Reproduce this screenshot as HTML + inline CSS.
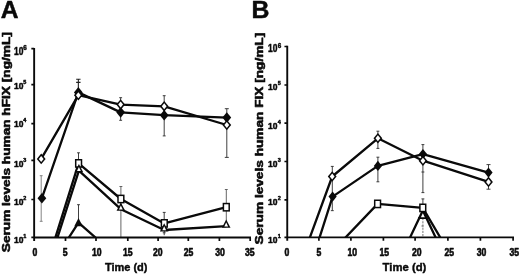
<!DOCTYPE html>
<html><head><meta charset="utf-8"><title>Figure</title>
<style>html,body{margin:0;padding:0;background:#fff}body{width:520px;height:274px;overflow:hidden;font-family:"Liberation Sans",sans-serif}svg{display:block;filter:grayscale(1)}text{stroke:#0a0a0a;stroke-width:.4px;stroke-linejoin:round}.t{stroke-width:.5px}.x{stroke-width:.6px}.y{stroke-width:.55px}.p{stroke-width:.5px}</style></head>
<body>
<svg width="520" height="274" viewBox="0 0 520 274" font-family="Liberation Sans, sans-serif" font-weight="bold" fill="#0a0a0a">
<defs><clipPath id="ca"><rect x="0" y="0" width="520" height="237.6"/></clipPath></defs>
<rect width="520" height="274" fill="#fff"/>
<text x="0.8" y="18.1" font-size="24.6" class="p">A</text>
<text x="251.4" y="18.4" font-size="24.8" class="p">B</text>
<text transform="translate(9.5 252.2) rotate(-90) scale(1.302 1)" font-size="10.5" class="y">Serum levels human hFIX [ng/mL]</text>
<text transform="translate(262.8 244.4) rotate(-90) scale(1.302 1)" font-size="10.5" class="y">Serum levels human FIX [ng/mL]</text>
<text x="104.9" y="270.5" font-size="11">Time (d)</text>
<text x="382.6" y="270.5" font-size="11.3">Time (d)</text>
<g clip-path="url(#ca)">
<path d="M78.35 79.2V90M76.15 79.2h4.4M76.15 82.4h4.4" fill="none" stroke="#222" stroke-width="1.1"/>
<path d="M120.65 97.7V120.3M119.2 97.7h2.9M119.2 120.3h2.9" fill="none" stroke="#2a2a2a" stroke-width="0.9"/>
<path d="M164.2 95.7V135.9M162.75 95.7h2.9M162.75 135.9h2.9" fill="none" stroke="#2a2a2a" stroke-width="0.9"/>
<path d="M226.8 108.7V157.4M224.8 108.7h4M224.8 157.4h4" fill="none" stroke="#2a2a2a" stroke-width="0.9"/>
<path d="M41.2 175.7V221.3M39.75 175.7h2.9M39.75 221.3h2.9" fill="none" stroke="#777" stroke-width="0.9"/>
<path d="M78.5 152.8V162M77.05 152.8h2.9" fill="none" stroke="#2a2a2a" stroke-width="0.9"/>
<path d="M120.9 186.5V240M119.45 186.5h2.9" fill="none" stroke="#555" stroke-width="0.9"/>
<path d="M164.2 212.4V235.2M162.75 212.4h2.9M162.75 232.8h2.9" fill="none" stroke="#2a2a2a" stroke-width="0.9"/>
<path d="M226.3 189.5V222M224.85 189.5h2.9" fill="none" stroke="#555" stroke-width="0.9"/>
<path d="M78.5 204.7V220M77.05 204.7h2.9" fill="none" stroke="#2a2a2a" stroke-width="0.9"/>
<path d="M41.9 198.2L78.35 92.4L120.65 112.35L164.2 115.2L226.8 117.6" fill="none" stroke="#0a0a0a" stroke-width="2.3" stroke-linejoin="round" stroke-linecap="butt"/>
<path d="M41.9 192.9L46.3 198.2L41.9 203.5L37.5 198.2Z" fill="#0a0a0a"/>
<path d="M78.35 87.1L82.75 92.4L78.35 97.7L73.95 92.4Z" fill="#0a0a0a"/>
<path d="M120.65 107.05L125.05 112.35L120.65 117.65L116.25 112.35Z" fill="#0a0a0a"/>
<path d="M164.2 109.9L168.6 115.2L164.2 120.5L159.8 115.2Z" fill="#0a0a0a"/>
<path d="M226.8 112.3L231.2 117.6L226.8 122.9L222.4 117.6Z" fill="#0a0a0a"/>
<path d="M41.2 158.9L78.35 95.2L120.65 104.6L164.2 106.35L226.8 125" fill="none" stroke="#0a0a0a" stroke-width="2.3" stroke-linejoin="round" stroke-linecap="butt"/>
<path d="M41.2 153.6L45.6 158.9L41.2 164.2L36.8 158.9Z" fill="#0a0a0a"/>
<path d="M41.2 155.9L43.6 158.9L41.2 161.9L38.8 158.9Z" fill="#fff"/>
<path d="M78.35 89.9L82.75 95.2L78.35 100.5L73.95 95.2Z" fill="#0a0a0a"/>
<path d="M78.35 92.2L80.75 95.2L78.35 98.2L75.95 95.2Z" fill="#fff"/>
<path d="M120.65 99.3L125.05 104.6L120.65 109.9L116.25 104.6Z" fill="#0a0a0a"/>
<path d="M120.65 101.6L123.05 104.6L120.65 107.6L118.25 104.6Z" fill="#fff"/>
<path d="M164.2 101.05L168.6 106.35L164.2 111.65L159.8 106.35Z" fill="#0a0a0a"/>
<path d="M164.2 103.35L166.6 106.35L164.2 109.35L161.8 106.35Z" fill="#fff"/>
<path d="M226.8 119.7L231.2 125L226.8 130.3L222.4 125Z" fill="#0a0a0a"/>
<path d="M226.8 122L229.2 125L226.8 128L224.4 125Z" fill="#fff"/>
<path d="M54.15 241.5L78.6 163.4L120.9 199L164.3 223.4L226.3 207.2" fill="none" stroke="#0a0a0a" stroke-width="2.3" stroke-linejoin="round" stroke-linecap="butt"/>
<rect x="74.95" y="159" width="7.3" height="8.8" fill="#0a0a0a"/>
<rect x="76.45" y="160.5" width="4.3" height="5.8" fill="#fff"/>
<rect x="117.25" y="194.6" width="7.3" height="8.8" fill="#0a0a0a"/>
<rect x="118.75" y="196.1" width="4.3" height="5.8" fill="#fff"/>
<rect x="160.65" y="219" width="7.3" height="8.8" fill="#0a0a0a"/>
<rect x="162.15" y="220.5" width="4.3" height="5.8" fill="#fff"/>
<rect x="222.65" y="202.8" width="7.3" height="8.8" fill="#0a0a0a"/>
<rect x="224.15" y="204.3" width="4.3" height="5.8" fill="#fff"/>
<path d="M56.22 241.5L78.9 170.6L120.85 209.2L164.2 230L226.2 226.2" fill="none" stroke="#0a0a0a" stroke-width="2.3" stroke-linejoin="round" stroke-linecap="butt"/>
<path d="M78.9 163.9L83.2 172.2L74.6 172.2Z" fill="#0a0a0a"/>
<path d="M78.9 166.9L80.8 170.9L77 170.9Z" fill="#fff"/>
<path d="M120.85 202.5L125.15 210.8L116.55 210.8Z" fill="#0a0a0a"/>
<path d="M120.85 205.5L122.75 209.5L118.95 209.5Z" fill="#fff"/>
<path d="M164.2 223.3L168.5 231.6L159.9 231.6Z" fill="#0a0a0a"/>
<path d="M164.2 226.3L166.1 230.3L162.3 230.3Z" fill="#fff"/>
<path d="M226.2 219.5L230.5 227.8L221.9 227.8Z" fill="#0a0a0a"/>
<path d="M226.2 222.5L228.1 226.5L224.3 226.5Z" fill="#fff"/>
<path d="M66.32 241.5L78.5 222.6L99.94 241.5" fill="none" stroke="#0a0a0a" stroke-width="2.3" stroke-linejoin="round" stroke-linecap="butt"/>
<path d="M78.5 218L82.7 226.2L74.3 226.2Z" fill="#0a0a0a"/>
</g>
<path d="M34.15 47.9V240.9M33.35 237.5H251" fill="none" stroke="#0a0a0a" stroke-width="1.9"/>
<path d="M31.35 237.4H34.15M31.35 199.5H34.15M31.35 160.4H34.15M31.35 123.7H34.15M31.35 84.6H34.15M31.35 48.7H34.15M65.5 237.5V240.9M96 237.5V240.9M127.8 237.5V240.9M158.1 237.5V240.9M188.3 237.5V240.9M219.4 237.5V240.9M250.2 237.5V240.9" fill="none" stroke="#0a0a0a" stroke-width="1.7"/>
<text transform="translate(23.4 243.1) scale(0.91 1)" text-anchor="end" font-size="9.3" class="t">10</text>
<text transform="translate(23.2 238.2) scale(0.9 1)" font-size="6.1" class="t">1</text>
<text transform="translate(23.4 204.5) scale(0.91 1)" text-anchor="end" font-size="9.3" class="t">10</text>
<text transform="translate(23.2 199.6) scale(0.9 1)" font-size="6.1" class="t">2</text>
<text transform="translate(23.4 166.5) scale(0.91 1)" text-anchor="end" font-size="9.3" class="t">10</text>
<text transform="translate(23.2 161.6) scale(0.9 1)" font-size="6.1" class="t">3</text>
<text transform="translate(23.4 126.8) scale(0.91 1)" text-anchor="end" font-size="9.3" class="t">10</text>
<text transform="translate(23.2 121.9) scale(0.9 1)" font-size="6.1" class="t">4</text>
<text transform="translate(23.4 88.8) scale(0.91 1)" text-anchor="end" font-size="9.3" class="t">10</text>
<text transform="translate(23.2 83.9) scale(0.9 1)" font-size="6.1" class="t">5</text>
<text transform="translate(23.4 54.5) scale(0.82 1)" text-anchor="end" font-size="10.3" class="t">10</text>
<text transform="translate(23.2 49.9) scale(0.9 1)" font-size="7.0" class="t">6</text>
<text transform="translate(35 255.7) scale(0.84 1)" text-anchor="middle" font-size="10.3" class="x">0</text>
<text transform="translate(65.1 255.7) scale(0.84 1)" text-anchor="middle" font-size="10.3" class="x">5</text>
<text transform="translate(96.8 255.7) scale(0.84 1)" text-anchor="middle" font-size="10.3" class="x">10</text>
<text transform="translate(127.7 255.7) scale(0.84 1)" text-anchor="middle" font-size="10.3" class="x">15</text>
<text transform="translate(157.7 255.7) scale(0.84 1)" text-anchor="middle" font-size="10.3" class="x">20</text>
<text transform="translate(188.6 255.7) scale(0.84 1)" text-anchor="middle" font-size="10.3" class="x">25</text>
<text transform="translate(220.1 255.7) scale(0.84 1)" text-anchor="middle" font-size="10.3" class="x">30</text>
<text transform="translate(249.8 255.7) scale(0.84 1)" text-anchor="middle" font-size="10.3" class="x">35</text>
<g clip-path="url(#ca)">
<path d="M332.3 166.4V210.65M330.85 166.4h2.9M330.85 210.65h2.9" fill="none" stroke="#2a2a2a" stroke-width="0.9"/>
<path d="M377.9 131.2V148.4M376.45 131.2h2.9M376.45 148.4h2.9" fill="none" stroke="#2a2a2a" stroke-width="0.9"/>
<path d="M377.9 157.2V181.8M376.45 157.2h2.9M376.45 181.8h2.9" fill="none" stroke="#2a2a2a" stroke-width="0.9"/>
<path d="M422.9 144.6V192.6M421.45 144.6h2.9M421.45 172h2.9M421.45 192.6h2.9" fill="none" stroke="#2a2a2a" stroke-width="0.9"/>
<path d="M422.9 198.9V206M421.45 198.9h2.9" fill="none" stroke="#2a2a2a" stroke-width="0.9"/>
<path d="M422.9 218V240M421.4 226h3" fill="none" stroke="#666" stroke-width="0.9" stroke-dasharray="2.2 1"/>
<path d="M488.5 164.6V189.2M486.5 164.6h4M486.5 189.2h4" fill="none" stroke="#2a2a2a" stroke-width="0.9"/>
<path d="M318.33 241.4L332.6 196.6L377.9 165.9L422.95 154.1L488.5 172.6" fill="none" stroke="#0a0a0a" stroke-width="2.3" stroke-linejoin="round" stroke-linecap="butt"/>
<path d="M332.6 191.4L336.7 196.6L332.6 201.8L328.5 196.6Z" fill="#0a0a0a"/>
<path d="M377.9 160.7L382 165.9L377.9 171.1L373.8 165.9Z" fill="#0a0a0a"/>
<path d="M422.95 148.9L427.05 154.1L422.95 159.3L418.85 154.1Z" fill="#0a0a0a"/>
<path d="M488.5 167.4L492.6 172.6L488.5 177.8L484.4 172.6Z" fill="#0a0a0a"/>
<path d="M308.44 241.4L332.2 176.5L377.9 138.3L422.95 160.7L488.5 181.9" fill="none" stroke="#0a0a0a" stroke-width="2.3" stroke-linejoin="round" stroke-linecap="butt"/>
<path d="M332.2 171.2L336.6 176.5L332.2 181.8L327.8 176.5Z" fill="#0a0a0a"/>
<path d="M332.2 173.5L334.6 176.5L332.2 179.5L329.8 176.5Z" fill="#fff"/>
<path d="M377.9 133L382.3 138.3L377.9 143.6L373.5 138.3Z" fill="#0a0a0a"/>
<path d="M377.9 135.3L380.3 138.3L377.9 141.3L375.5 138.3Z" fill="#fff"/>
<path d="M422.95 155.4L427.35 160.7L422.95 166L418.55 160.7Z" fill="#0a0a0a"/>
<path d="M422.95 157.7L425.35 160.7L422.95 163.7L420.55 160.7Z" fill="#fff"/>
<path d="M488.5 176.6L492.9 181.9L488.5 187.2L484.1 181.9Z" fill="#0a0a0a"/>
<path d="M488.5 178.9L490.9 181.9L488.5 184.9L486.1 181.9Z" fill="#fff"/>
<path d="M408.21 241.4L422.85 210.4L437.49 241.4" fill="none" stroke="#0a0a0a" stroke-width="2.3" stroke-linejoin="round" stroke-linecap="butt"/>
<path d="M418 218.1H427.7" stroke="#0a0a0a" stroke-width="1.6" fill="none"/>
<path d="M341.78 241.4L377.6 203.9L422.8 207.9L442.56 241.4" fill="none" stroke="#0a0a0a" stroke-width="2.3" stroke-linejoin="round" stroke-linecap="butt"/>
<rect x="373.95" y="199.5" width="7.3" height="8.8" fill="#0a0a0a"/>
<rect x="375.45" y="201" width="4.3" height="5.8" fill="#fff"/>
<rect x="419.15" y="203.5" width="7.3" height="8.8" fill="#0a0a0a"/>
<rect x="420.65" y="205" width="4.3" height="5.8" fill="#fff"/>
</g>
<path d="M287.25 45.7V240.8M286.45 237.4H514" fill="none" stroke="#0a0a0a" stroke-width="1.9"/>
<path d="M284.45 237.4H287.25M284.45 199.9H287.25M284.45 161.5H287.25M284.45 123.2H287.25M284.45 85H287.25M284.45 46.5H287.25M318.9 237.4V240.8M350.9 237.4V240.8M383.4 237.4V240.8M415.1 237.4V240.8M447.9 237.4V240.8M480.4 237.4V240.8M513.1 237.4V240.8" fill="none" stroke="#0a0a0a" stroke-width="1.7"/>
<text transform="translate(277.5 243.1) scale(0.91 1)" text-anchor="end" font-size="9.3" class="t">10</text>
<text transform="translate(277.8 238.2) scale(0.9 1)" font-size="6.1" class="t">1</text>
<text transform="translate(277.5 204.9) scale(0.91 1)" text-anchor="end" font-size="9.3" class="t">10</text>
<text transform="translate(277.8 200) scale(0.9 1)" font-size="6.1" class="t">2</text>
<text transform="translate(277.5 166.9) scale(0.91 1)" text-anchor="end" font-size="9.3" class="t">10</text>
<text transform="translate(277.8 162) scale(0.9 1)" font-size="6.1" class="t">3</text>
<text transform="translate(277.5 128.5) scale(0.91 1)" text-anchor="end" font-size="9.3" class="t">10</text>
<text transform="translate(277.8 123.6) scale(0.9 1)" font-size="6.1" class="t">4</text>
<text transform="translate(277.5 90) scale(0.91 1)" text-anchor="end" font-size="9.3" class="t">10</text>
<text transform="translate(277.8 85.1) scale(0.9 1)" font-size="6.1" class="t">5</text>
<text transform="translate(277.5 52.2) scale(0.82 1)" text-anchor="end" font-size="10.3" class="t">10</text>
<text transform="translate(277.8 47.6) scale(0.9 1)" font-size="7.0" class="t">6</text>
<text transform="translate(286.8 255.7) scale(0.84 1)" text-anchor="middle" font-size="10.3" class="x">0</text>
<text transform="translate(318.9 255.7) scale(0.84 1)" text-anchor="middle" font-size="10.3" class="x">5</text>
<text transform="translate(352.2 255.7) scale(0.84 1)" text-anchor="middle" font-size="10.3" class="x">10</text>
<text transform="translate(384.3 255.7) scale(0.84 1)" text-anchor="middle" font-size="10.3" class="x">15</text>
<text transform="translate(416.8 255.7) scale(0.84 1)" text-anchor="middle" font-size="10.3" class="x">20</text>
<text transform="translate(449.3 255.7) scale(0.84 1)" text-anchor="middle" font-size="10.3" class="x">25</text>
<text transform="translate(481.5 255.7) scale(0.84 1)" text-anchor="middle" font-size="10.3" class="x">30</text>
<text transform="translate(514.3 255.7) scale(0.84 1)" text-anchor="middle" font-size="10.3" class="x">35</text>
</svg>
</body></html>
